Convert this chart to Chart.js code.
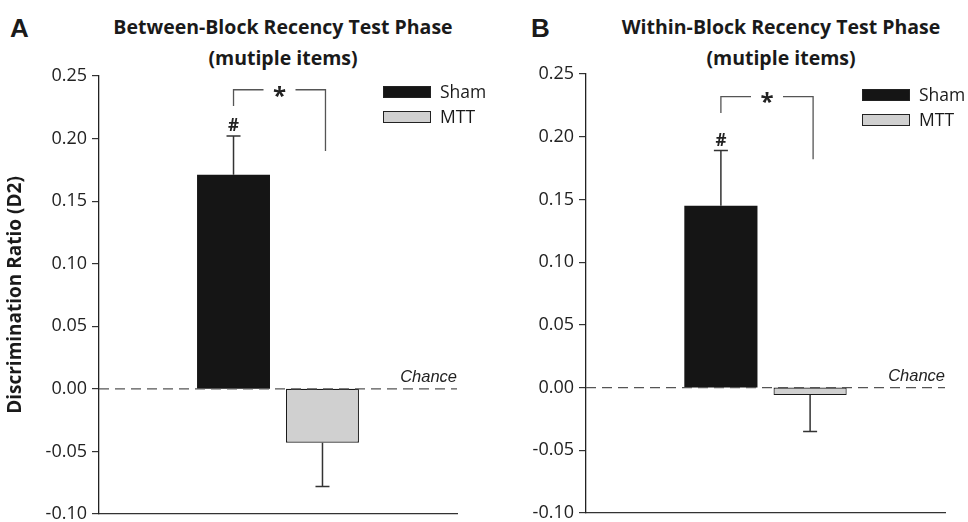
<!DOCTYPE html>
<html>
<head>
<meta charset="utf-8">
<script src="https://cdn.jsdelivr.net/npm/chart.js@4.4.0/dist/chart.umd.min.js"></script>
<style>
    body { margin: 0; background: #fff; width: 968px; height: 522px; overflow: hidden; position: relative; font-family: "Open Sans", sans-serif; color: #1a1a1a; }
    .panel { position: absolute; top: 0; width: 484px; height: 522px; }
    .letter { position: absolute; top: 13px; font: bold 26px "Liberation Sans", Arial, sans-serif; }
    .title { position: absolute; top: 11px; width: 440px; text-align: center; font-weight: bold; font-size: 19.5px; line-height: 31px; }
    .legend { position: absolute; font-size: 17.5px; }
    .legend .row { position: relative; height: 25px; }
    .legend .box { position: absolute; left: 0; top: 0; width: 48px; height: 12px; box-sizing: border-box; }
    .legend .lbl { position: absolute; left: 57px; top: -7px; }
</style>
</head>
<body>
<div class="letter" style="left:10px">A</div>
<div class="letter" style="left:531px">B</div>
<div class="title" style="left:63px">Between-Block Recency Test Phase<br>(mutiple items)</div>
<div class="title" style="left:561px">Within-Block Recency Test Phase<br>(mutiple items)</div>

<div class="panel" style="left:0"><canvas id="chartA" width="484" height="522"></canvas></div>
<div class="panel" style="left:484px"><canvas id="chartB" width="484" height="522"></canvas></div>

<div class="legend" id="legendA" style="left:383px; top:86px"></div>
<div class="legend" id="legendB" style="left:862px; top:89px"></div>

<script>
// Groups and colours
const groups = ['Sham', 'MTT'];
const groupFill = ['#151515', '#d0d0d0'];

// Discrimination ratio (D2), mean and SEM, per test phase
const betweenMeans = [0.171, -0.043];
const betweenErrors = [0.031, 0.035];
const withinMeans = [0.145, -0.006];
const withinErrors = [0.044, 0.029];

// Y axis ticks
const yMin = -0.10;
const yMax = 0.25;
const yStep = 0.05;

// Significance bracket (data units): top, left end, right end
const bracketA = [0.239, 0.226, 0.190];
const bracketB = [0.232, 0.219, 0.182];

// Draws one-sided SEM bars, chance line, # and * markers
const annotationPlugin = {
    id: 'annotations',
    afterDatasetsDraw(chart, args, opts) {
        const ctx = chart.ctx;
        const y = chart.scales.y;
        const area = chart.chartArea;
        const bars = chart.data.datasets.map((ds, i) => chart.getDatasetMeta(i).data[0]);
        ctx.save();

        // Error bars
        const errTops = [];
        chart.data.datasets.forEach((ds, i) => {
            const v = ds.data[0];
            const e = opts.errors[i];
            const x = bars[i].x;
            const yv = y.getPixelForValue(v);
            const ye = y.getPixelForValue(v >= 0 ? v + e : v - e);
            errTops.push(ye);
            ctx.strokeStyle = '#333';
            ctx.lineWidth = 1.5;
            ctx.beginPath();
            ctx.moveTo(x, yv);
            ctx.lineTo(x, ye);
            ctx.moveTo(x - 7, ye);
            ctx.lineTo(x + 7, ye);
            ctx.stroke();
        });

        // Chance line
        const y0 = y.getPixelForValue(0);
        ctx.strokeStyle = '#555';
        ctx.lineWidth = 1.2;
        ctx.setLineDash([10, 6]);
        ctx.beginPath();
        ctx.moveTo(area.left, y0);
        ctx.lineTo(area.right, y0);
        ctx.stroke();
        ctx.setLineDash([]);
        ctx.fillStyle = '#222';
        ctx.font = 'italic 16.5px "Liberation Sans", Arial, sans-serif';
        ctx.textAlign = 'right';
        ctx.textBaseline = 'bottom';
        ctx.fillText('Chance', area.right, y0 - 3);

        // # over Sham
        ctx.font = 'bold 17px "Open Sans", sans-serif';
        ctx.textAlign = 'center';
        ctx.textBaseline = 'bottom';
        ctx.fillText('#', bars[0].x, errTops[0] - 1);

        // Bracket with *
        const b = opts.bracket;
        const xl = bars[0].x;
        const xr = bars[1].x + 3;
        const yt = y.getPixelForValue(b[0]);
        const xm = (xl + xr) / 2;
        ctx.strokeStyle = '#555';
        ctx.lineWidth = 1.3;
        ctx.beginPath();
        ctx.moveTo(xl, y.getPixelForValue(b[1]));
        ctx.lineTo(xl, yt);
        ctx.lineTo(xm - 16, yt);
        ctx.moveTo(xm + 16, yt);
        ctx.lineTo(xr, yt);
        ctx.lineTo(xr, y.getPixelForValue(b[2]));
        ctx.stroke();
        ctx.font = 'bold 24px "Open Sans", sans-serif';
        ctx.textBaseline = 'middle';
        ctx.fillText('*', xm, yt + 7);
        ctx.restore();
    }
};

function makeChart(canvasId, means, errors, bracket, opts) {
    const ctx = document.getElementById(canvasId).getContext('2d');
    return new Chart(ctx, {
        type: 'bar',
        data: {
            labels: [''],
            datasets: groups.map((g, i) => ({
                label: g,
                data: [means[i]],
                backgroundColor: groupFill[i],
                borderColor: '#1a1a1a',
                borderWidth: i === 0 ? 0 : 1.2,
                borderSkipped: false,
                categoryPercentage: 0.497,
                barPercentage: 0.82
            }))
        },
        options: {
            responsive: false,
            animation: false,
            events: [],
            layout: { padding: opts.padding },
            plugins: {
                legend: { display: false },
                tooltip: { enabled: false },
                annotations: { errors: errors, bracket: bracket }
            },
            scales: {
                x: {
                    afterFit: (scale) => { scale.height = 0; },
                    ticks: { display: false },
                    grid: { display: false, drawTicks: false },
                    border: { display: true, color: '#333', width: 1.3 }
                },
                y: {
                    min: yMin,
                    max: yMax,
                    afterFit: (scale) => {
                        scale.width = opts.axisWidth;
                        scale.paddingTop = 0;
                        scale.paddingBottom = 0;
                    },
                    ticks: {
                        stepSize: yStep,
                        padding: 5,
                        color: '#222',
                        font: { family: 'Open Sans', size: 18 },
                        callback: (v) => (Math.abs(v) < 1e-9 ? 0 : v).toFixed(2)
                    },
                    grid: { drawOnChartArea: false, drawTicks: true, tickLength: 7, color: '#333', lineWidth: 1.2 },
                    border: { display: true, color: '#222', width: 1.3 },
                    title: {
                        display: opts.yTitle !== '',
                        text: opts.yTitle,
                        color: '#1a1a1a',
                        font: { family: 'Open Sans', size: 19, weight: 'bold' },
                        padding: { top: 4, bottom: 0 }
                    }
                }
            }
        },
        plugins: [annotationPlugin]
    });
}

function buildLegend(id) {
    const el = document.getElementById(id);
    el.innerHTML = groups.map((g, i) =>
        `<div class="row"><div class="box" style="background:${groupFill[i]};border:1px solid #222"></div><div class="lbl">${g}</div></div>`
    ).join('');
}

makeChart('chartA', betweenMeans, betweenErrors, bracketA, {
    padding: { top: 76, right: 27, bottom: 8, left: 0 },
    axisWidth: 99,
    yTitle: 'Discrimination Ratio (D2)'
});
makeChart('chartB', withinMeans, withinErrors, bracketB, {
    padding: { top: 74, right: 23, bottom: 9, left: 0 },
    axisWidth: 102,
    yTitle: ''
});
buildLegend('legendA');
buildLegend('legendB');
</script>
</body>
</html>
